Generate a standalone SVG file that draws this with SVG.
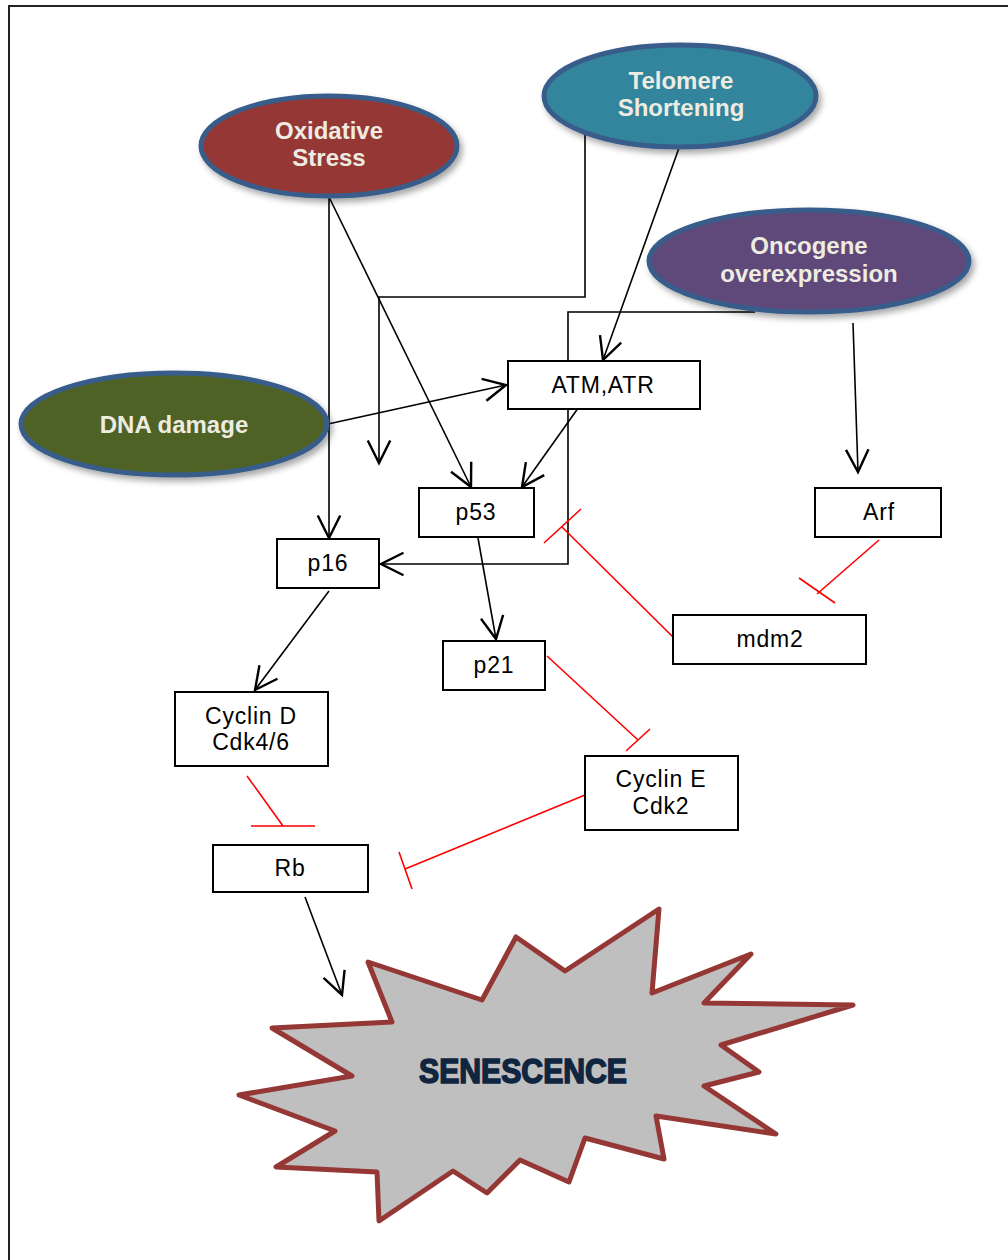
<svg xmlns="http://www.w3.org/2000/svg" width="1008" height="1260" viewBox="0 0 1008 1260">
<defs>
<style>
.ell{stroke:#385D8A;stroke-width:5}
.et{font-family:"Liberation Sans",Arial,sans-serif;font-weight:bold;font-size:24px;fill:#EEECE1;text-anchor:middle}
.box{fill:#fff;stroke:#000;stroke-width:2}
.bt{font-family:"Liberation Sans",Arial,sans-serif;font-size:23px;letter-spacing:0.8px;fill:#000;text-anchor:middle}
.con{fill:none;stroke:#000;stroke-width:1.6}
.inh{fill:none;stroke:#FF0000;stroke-width:1.6}
</style>
<marker id="arr" markerUnits="userSpaceOnUse" markerWidth="30" markerHeight="30" refX="0" refY="0" viewBox="-16 -10 20 20" orient="auto" overflow="visible">
<path d="M-15,-7.5 L0,0 L-15,7.5" fill="none" stroke="#000" stroke-width="1.6"/>
</marker>
<filter id="sh" x="-20%" y="-20%" width="150%" height="160%">
<feDropShadow dx="3" dy="4" stdDeviation="3" flood-color="#000" flood-opacity="0.35"/>
</filter>
</defs>
<rect width="1008" height="1260" fill="#fff"/>
<path d="M9,1260 V6 H1008" fill="none" stroke="#222" stroke-width="2"/>

<g id="connectors">
<line class="con" x1="329" y1="197" x2="329" y2="538" marker-end="url(#arr)"/>
<line class="con" x1="329" y1="197" x2="471" y2="487" marker-end="url(#arr)"/>
<polyline class="con" points="585,133 585,297 379,297 379,463" marker-end="url(#arr)"/>
<line class="con" x1="679" y1="148" x2="603" y2="360" marker-end="url(#arr)"/>
<polyline class="con" points="755,312 568,312 568,564 381,564" marker-end="url(#arr)"/>
<line class="con" x1="853" y1="323" x2="858" y2="472" marker-end="url(#arr)"/>
<line class="con" x1="328" y1="424" x2="506" y2="385" marker-end="url(#arr)"/>
<line class="con" x1="586" y1="397" x2="522" y2="487" marker-end="url(#arr)"/>
<line class="con" x1="478" y1="538" x2="496" y2="639" marker-end="url(#arr)"/>
<line class="con" x1="329" y1="591" x2="255" y2="690" marker-end="url(#arr)"/>
<line class="con" x1="305" y1="897" x2="342" y2="995" marker-end="url(#arr)"/>
<path class="inh" d="M673,637 L562,527 M544,543 L581,509"/>
<path class="inh" d="M879,540 L817,594 M799,578 L835,603"/>
<path class="inh" d="M547,656 L638,740 M626,751 L650,729"/>
<path class="inh" d="M247,776 L283,826 M251,826 L315,826"/>
<path class="inh" d="M585,795 L405,869 M399,852 L412,889"/>
</g>

<g id="oxidative">
<ellipse class="ell" cx="329" cy="146" rx="128" ry="50" fill="#953735" filter="url(#sh)"/>
<text class="et" x="329" y="139">Oxidative</text>
<text class="et" x="329" y="166">Stress</text>
</g>
<g id="telomere">
<ellipse class="ell" cx="680" cy="96" rx="136" ry="51" fill="#31859C" filter="url(#sh)"/>
<text class="et" x="681" y="89">Telomere</text>
<text class="et" x="681" y="116">Shortening</text>
</g>
<g id="oncogene">
<ellipse class="ell" cx="809" cy="261" rx="160" ry="51" fill="#5F497A" filter="url(#sh)"/>
<text class="et" x="809" y="254">Oncogene</text>
<text class="et" x="809" y="282">overexpression</text>
</g>
<g id="dna">
<ellipse class="ell" cx="174" cy="424" rx="153" ry="51" fill="#4F6228" filter="url(#sh)"/>
<text class="et" x="174" y="433">DNA damage</text>
</g>

<g id="atm"><rect class="box" x="508" y="361" width="192" height="48"/><text class="bt" x="603" y="393">ATM,ATR</text></g>
<g id="p53"><rect class="box" x="419" y="488" width="115" height="49"/><text class="bt" x="476" y="520">p53</text></g>
<g id="arf"><rect class="box" x="815" y="488" width="126" height="49"/><text class="bt" x="879" y="520">Arf</text></g>
<g id="p16"><rect class="box" x="277" y="539" width="102" height="49"/><text class="bt" x="328" y="571">p16</text></g>
<g id="mdm2"><rect class="box" x="673" y="615" width="193" height="49"/><text class="bt" x="770" y="647">mdm2</text></g>
<g id="p21"><rect class="box" x="443" y="641" width="102" height="49"/><text class="bt" x="494" y="673">p21</text></g>
<g id="cyclinD"><rect class="box" x="175" y="692" width="153" height="74"/><text class="bt" x="251" y="724">Cyclin D</text><text class="bt" x="251" y="750">Cdk4/6</text></g>
<g id="cyclinE"><rect class="box" x="585" y="756" width="153" height="74"/><text class="bt" x="661" y="787">Cyclin E</text><text class="bt" x="661" y="814">Cdk2</text></g>
<g id="rb"><rect class="box" x="213" y="845" width="155" height="47"/><text class="bt" x="290" y="876">Rb</text></g>

<g id="senescence">
<polygon points="368,962 392,1022 272,1028 352,1076 239,1095 335,1131 276,1167 377,1172 379,1221 453,1171 487,1193 520,1160 569,1182 585,1138 664,1159 656,1116 776,1134 704,1086 759,1072 721,1045 853,1005 704,1003 751,954 652,993 659,909 565,971 516,937 482,1000" fill="#BFBFBF" stroke="#953735" stroke-width="5" stroke-linejoin="round"/>
<text x="523" y="1083" font-family="'Liberation Sans',Arial,sans-serif" font-weight="bold" font-size="35" fill="#10253F" stroke="#10253F" stroke-width="1.6" text-anchor="middle" textLength="208" lengthAdjust="spacingAndGlyphs">SENESCENCE</text>
</g>
</svg>
